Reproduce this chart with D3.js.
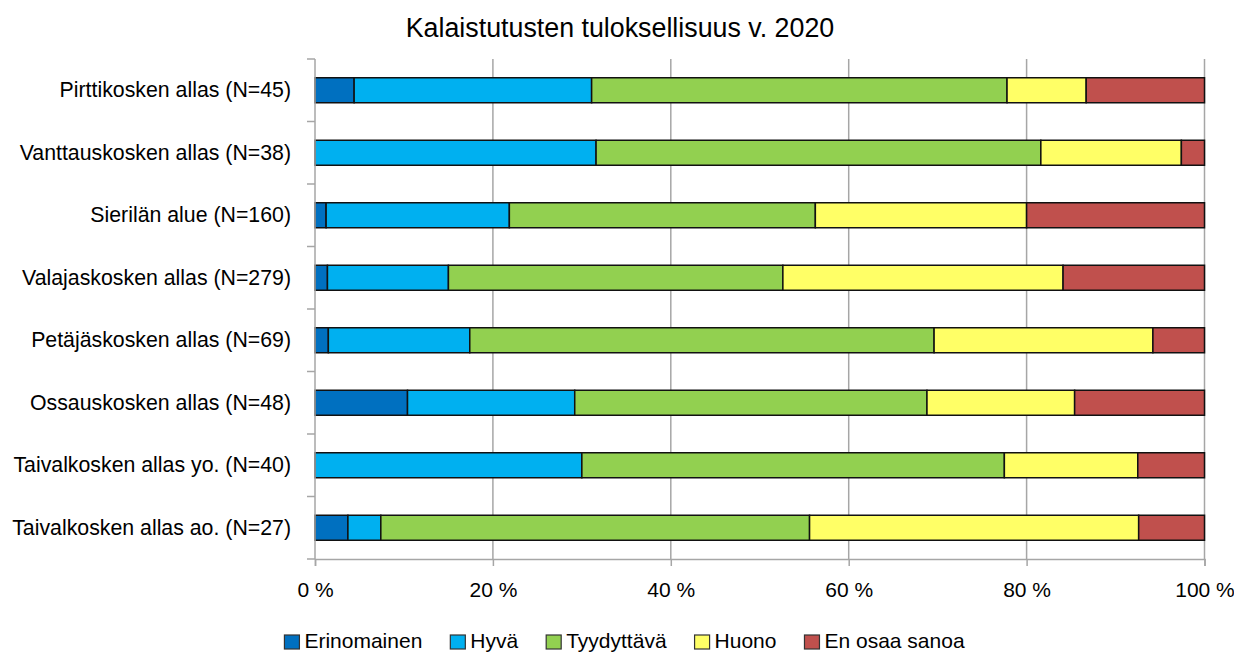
<!DOCTYPE html>
<html><head><meta charset="utf-8">
<script src="https://cdn.jsdelivr.net/npm/d3@7"></script>
<style>body{margin:0;background:#fff}text{font-family:"Liberation Sans",Arial,sans-serif;fill:#000}</style>
</head><body><svg id="c" width="1234" height="652"></svg>
<script>
const title = "Kalaistutusten tuloksellisuus v. 2020";
const categories = ["Pirttikosken allas (N=45)","Vanttauskosken allas (N=38)","Sierilän alue (N=160)","Valajaskosken allas (N=279)","Petäjäskosken allas (N=69)","Ossauskosken allas (N=48)","Taivalkosken allas yo. (N=40)","Taivalkosken allas ao. (N=27)"];
const seriesNames = ["Erinomainen","Hyvä","Tyydyttävä","Huono","En osaa sanoa"];
const seriesColors = ["#0070C0","#00B0F0","#92D050","#FFFF66","#C0504D"];
const erinomainen = [4.4, 0, 1.25, 1.4, 1.5, 10.4, 0, 3.7];
const hyva        = [26.7, 31.6, 20.6, 13.6, 15.9, 18.8, 30.0, 3.7];
const tyydyttava  = [46.7, 50.0, 34.4, 37.6, 52.2, 39.6, 47.5, 48.2];
const huono       = [8.9, 15.8, 23.75, 31.5, 24.6, 16.6, 15.0, 37.0];
const enOsaa      = [13.3, 2.6, 20.0, 15.9, 5.8, 14.6, 7.5, 7.4];
const xTicks = [0,20,40,60,80,100];

const seriesVals = [erinomainen, hyva, tyydyttava, huono, enOsaa];
const rows = categories.map((c,i)=>{const o={cat:c}; seriesNames.forEach((s,j)=>o[s]=seriesVals[j][i]); return o;});
const stack = d3.stack().keys(seriesNames)(rows);

const svg = d3.select("#c");
const x = d3.scaleLinear().domain([0,100]).range([315,1204.5]);
const y = d3.scaleBand().domain(categories).range([59,559]).paddingInner(0.6).paddingOuter(0.3);
const grey = "#a6a6a6";

// gridlines
svg.append("g").selectAll("line").data(xTicks.slice(1)).join("line")
  .attr("x1",d=>x(d)).attr("x2",d=>x(d)).attr("y1",59).attr("y2",559)
  .attr("stroke",grey).attr("stroke-width",1.5);

// bars
svg.append("g").selectAll("g").data(stack).join("g")
  .attr("fill",(d,i)=>seriesColors[i])
  .selectAll("rect").data(d=>d).join("rect")
  .attr("x",d=>x(d[0])).attr("width",d=>Math.max(0,x(d[1])-x(d[0])))
  .attr("y",d=>y(d.data.cat)).attr("height",y.bandwidth())
  .attr("stroke",d=>(d[1]-d[0])>0?"#111":"none").attr("stroke-width",1.5);

// x axis
const xa = svg.append("g").attr("transform","translate(0,559)")
  .call(d3.axisBottom(x).tickValues(xTicks).tickFormat(d=>d+" %").tickSize(7).tickPadding(16));
xa.select(".domain").attr("stroke",grey).attr("stroke-width",1.5);
xa.selectAll(".tick line").attr("stroke",grey).attr("stroke-width",1.5);
xa.selectAll("text").attr("font-size",21).attr("font-family","Liberation Sans, Arial, sans-serif").attr("fill","#000");

// y axis
const ya = svg.append("g").attr("transform","translate(315,0)")
  .call(d3.axisLeft(y).tickSize(0).tickPadding(24));
ya.select(".domain").attr("stroke",grey).attr("stroke-width",1.5).attr("d","M0,59V559");
ya.selectAll("text").attr("font-size",21.3).attr("font-family","Liberation Sans, Arial, sans-serif").attr("fill","#000");
const bounds = d3.range(categories.length+1).map(i=>y.range()[0]+i*y.step());
ya.append("g").selectAll("line").data(bounds).join("line")
  .attr("x1",-8).attr("x2",0).attr("y1",d=>d).attr("y2",d=>d)
  .attr("stroke",grey).attr("stroke-width",1.5);

// title
svg.append("text").attr("x",620).attr("y",37).attr("text-anchor","middle")
  .attr("font-size",26.8).text(title);

// legend
const lg = svg.append("g");
let lx = 0;
seriesNames.forEach((s,i)=>{
  const g = lg.append("g").attr("transform",`translate(${lx},0)`);
  g.append("rect").attr("x",0).attr("y",-13).attr("width",15).attr("height",14)
    .attr("fill",seriesColors[i]).attr("stroke","#333").attr("stroke-width",1.2);
  const t = g.append("text").attr("x",20).attr("y",0).attr("font-size",21).text(s);
  lx += 20 + t.node().getComputedTextLength() + 28;
});
const lw = lx - 28;
lg.attr("transform",`translate(${624.5-lw/2},648)`);
</script></body></html>
